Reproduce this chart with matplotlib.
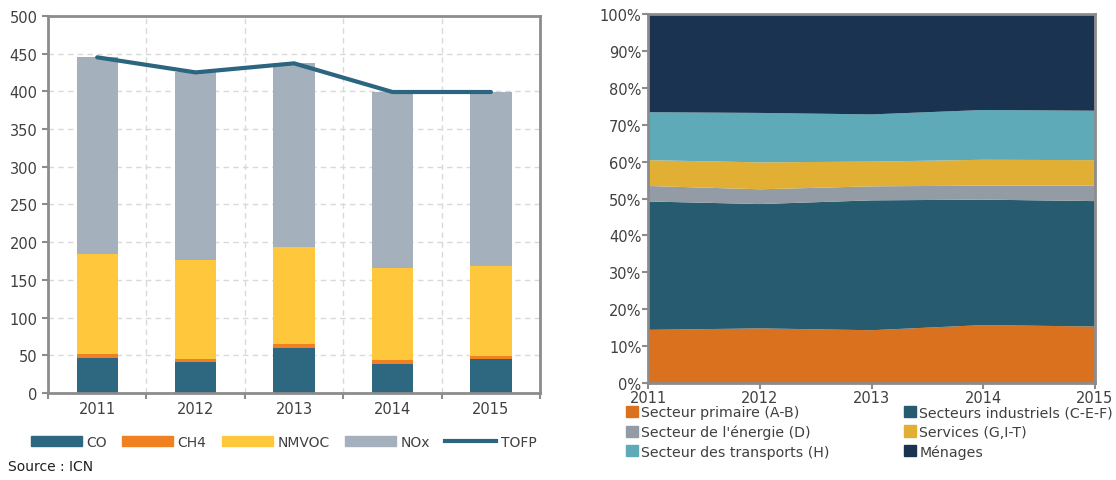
import numpy as np
import matplotlib
matplotlib.use('Agg')
import matplotlib.pyplot as plt
from matplotlib.patches import Patch
from matplotlib.lines import Line2D

################################################################################
# Données
annees = ['2011', '2012', '2013', '2014', '2015']
co = [46, 41, 60, 39, 45]
ch4 = [5, 4.5, 5, 4.5, 4.5]
nmvoc = [133, 131, 129, 122, 119]
nox = [261, 249, 243, 234, 231]
tofp = [445, 425, 437, 399, 399]

annees_num = [2011, 2012, 2013, 2014, 2015]
primaire = [14.4, 14.8, 14.3, 15.7, 15.3]
industriels = [34.8, 33.7, 35.2, 34.0, 34.0]
energie = [4.2, 4.0, 3.8, 3.8, 4.2]
services = [7.0, 7.3, 6.7, 7.0, 6.9]
transports = [13.0, 13.4, 12.8, 13.5, 13.4]
menages = [26.6, 26.8, 27.2, 26.0, 26.2]
################################################################################

plt.rcParams['font.family'] = ['DejaVu Sans']
gris_txt = '#404040'
gris_axe = '#8c8c8c'

fig = plt.figure(figsize=(11.16, 4.81), dpi=100)

# Graphique de gauche : barres empilées + ligne TOFP
ax1 = fig.add_axes([0.043, 0.181, 0.441, 0.784])
x = np.arange(len(annees))
larg = 0.42
bas = np.zeros(len(annees))
series = [(co, '#2e6880', 'CO'), (ch4, '#f08122', 'CH4'),
          (nmvoc, '#ffc73c', 'NMVOC'), (nox, '#a5b0bd', 'NOx')]
for vals, col, nom in series:
    ax1.bar(x, vals, larg, bottom=bas, color=col, zorder=2)
    bas = bas + np.array(vals)
ax1.plot(x, tofp, color='#2b6580', lw=3, zorder=3, solid_capstyle='round')

ax1.set_xlim(-0.5, 4.42)
ax1.set_ylim(0, 500)
ax1.set_yticks(range(0, 501, 50))
ax1.set_xticks(x)
ax1.set_xticklabels(annees)
ax1.set_xticks(np.arange(-0.5, 4.6, 1), minor=True)
ax1.tick_params(axis='x', which='major', length=0, labelsize=10.5, colors=gris_txt, pad=6)
ax1.tick_params(axis='x', which='minor', length=4, color=gris_axe, width=1.5)
ax1.tick_params(axis='y', length=4, color=gris_axe, width=1.5, labelsize=10.5, colors=gris_txt)
ax1.grid(True, which='minor', axis='x', color='#d9d9d9', ls=(0, (4, 3)), lw=1)
ax1.grid(True, which='major', axis='y', color='#d9d9d9', ls=(0, (4, 3)), lw=1)
ax1.set_axisbelow(True)
for s in ax1.spines.values():
    s.set_color(gris_axe)
    s.set_linewidth(2)

handles = [Patch(color=c, label=n) for v, c, n in series]
handles.append(Line2D([0], [0], color='#2b6580', lw=3, label='TOFP'))
fig.legend(handles=handles, loc='center', bbox_to_anchor=(0.254, 0.079), ncol=5,
           frameon=False, handlelength=3.7, handleheight=0.75, columnspacing=1.1,
           handletextpad=0.3, fontsize=10, labelcolor=gris_txt)
fig.text(0.007, 0.029, 'Source : ICN', fontsize=10, color='#202020', va='center')

# Graphique de droite : aires empilées (%)
ax2 = fig.add_axes([0.581, 0.2017, 0.4, 0.767])
secteurs = [(primaire, '#d9711e', 'Secteur primaire (A-B)'),
            (industriels, '#275b70', 'Secteurs industriels (C-E-F)'),
            (energie, '#939ba5', "Secteur de l'énergie (D)"),
            (services, '#e0af33', 'Services (G,I-T)'),
            (transports, '#5eaab8', 'Secteur des transports (H)'),
            (menages, '#1a3350', 'Ménages')]
tot = np.sum([s[0] for s in secteurs], axis=0)
ax2.stackplot(annees_num, *[np.array(s[0]) / tot for s in secteurs],
              colors=[s[1] for s in secteurs], labels=[s[2] for s in secteurs])
ax2.set_xlim(2011, 2015)
ax2.set_ylim(0, 1)
ax2.set_xticks(annees_num)
ax2.set_yticks(np.linspace(0, 1, 11))
ax2.set_yticklabels([f'{int(round(v * 100))}%' for v in np.linspace(0, 1, 11)])
ax2.tick_params(axis='both', length=4, color=gris_axe, width=1.5, labelsize=10.5,
                colors=gris_txt, pad=1)
for s in ax2.spines.values():
    s.set_color(gris_axe)
    s.set_linewidth(2)

# légende en lignes : réordonner pour le remplissage par colonnes
ordre = [0, 2, 4, 1, 3, 5]
h2 = [Patch(color=secteurs[i][1], label=secteurs[i][2]) for i in ordre]
fig.legend(handles=h2, loc='upper left', bbox_to_anchor=(0.561, 0.155), ncol=2,
           frameon=False, handlelength=0.85, handleheight=0.85, handletextpad=0.2,
           columnspacing=5.3, labelspacing=0.38, fontsize=10.2, labelcolor=gris_txt,
           borderaxespad=0, borderpad=0)

fig.savefig('out.png', dpi=100)
